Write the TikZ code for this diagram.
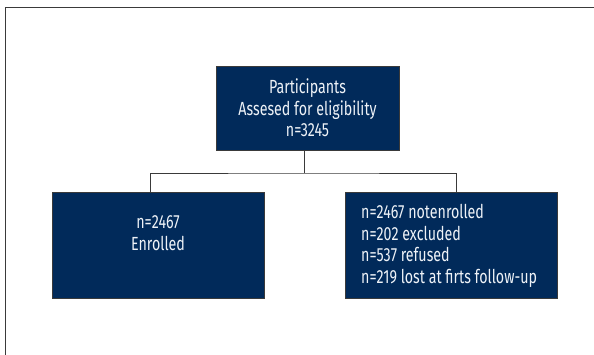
\documentclass[tikz,border=0pt]{standalone}
\usepackage{fontspec}
\setmainfont{Fira Sans}[FakeStretch=0.75]
\definecolor{navy}{HTML}{012A5A}
\definecolor{edge}{HTML}{3A3A3A}
\definecolor{txt}{HTML}{EEF2F7}
\begin{document}
\begin{tikzpicture}[x=1pt,y=-1pt,
  box/.style={draw=edge,line width=1pt,fill=navy,inner sep=0pt},
  lbl/.style={text=txt,font=\fontsize{19}{21.5}\selectfont,inner sep=0pt},
  conn/.style={draw=edge,line width=1pt}]
\useasboundingbox (0,0) rectangle (594,354);
\draw[edge,line width=1pt] (5.5,7) rectangle (600,360);
\node[box,minimum width=183pt,minimum height=84pt] (top) at (307.5,108) {};
\node[lbl,align=center] (toptxt) at (top.center) {Participants\\Assesed for eligibility\\n=3245};
\node[box,minimum width=212pt,minimum height=106pt] (el) at (158,245) {};
\node[lbl,align=center] (eltxt) at (158,233) {n=2467\\Enrolled};
\node[box,minimum width=212pt,minimum height=106pt] (er) at (451,245) {};
\node[lbl,align=left,anchor=west] (ertxt) at (361,246) {n=2467 notenrolled\\n=202 excluded\\n=537 refused\\n=219 lost at firts follow-up};
\coordinate (j) at (304,173);
\draw[conn] ([xshift=-3.5pt]top.south) -- (j);
\draw[conn] ([xshift=-8pt]el.north) |- (j) -| ([xshift=5pt]er.north);
\end{tikzpicture}
\end{document}
